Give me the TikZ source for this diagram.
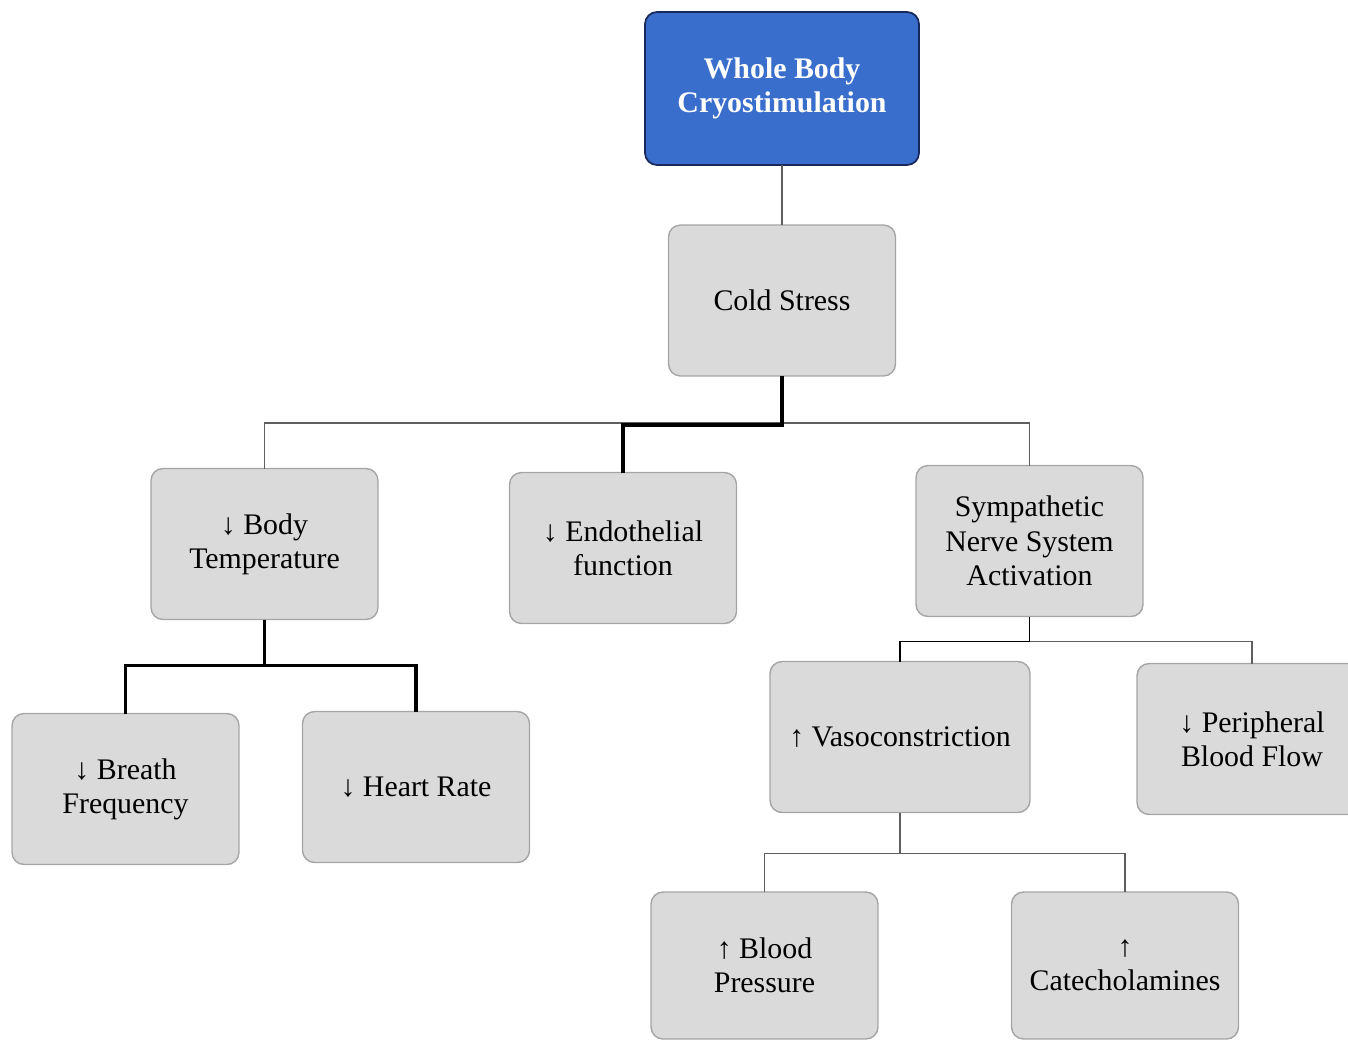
\documentclass[tikz,border=0pt]{standalone}
\usepackage{fontspec}
\setmainfont{Liberation Serif}
\definecolor{boxfill}{RGB}{218,218,218}
\definecolor{boxline}{RGB}{165,165,165}
\definecolor{topfill}{RGB}{58,110,205}
\definecolor{topline}{RGB}{25,40,90}
\definecolor{linkgray}{RGB}{95,95,95}
\begin{document}
\begin{tikzpicture}[x=0.02cm,y=-0.02cm,
    box/.style={draw=boxline,fill=boxfill,rounded corners=0.24cm,line width=0.8pt,
                minimum width=4.54cm,minimum height=3.02cm,inner sep=2pt,outer sep=0pt,
                align=center,font=\fontsize{17}{19.5}\selectfont},
    topbox/.style={box,draw=topline,fill=topfill,text=white,line width=1pt,
                minimum width=5.48cm,minimum height=3.06cm,font=\fontsize{17}{19.5}\selectfont\bfseries},
    thinlink/.style={draw=linkgray,line width=1pt},
    boldlink/.style={draw=black,line width=2pt}]
    \useasboundingbox (0,0) rectangle (1348,1039);
    \node[topbox]                           (wbc)   at ( 782.0,  88.5) {Whole Body\\Cryostimulation};
    \node[box]                              (cold)  at ( 782.0, 300.5) {Cold Stress};
    \node[box]                              (bodyt) at ( 264.5, 544.0) {↓ Body\\Temperature};
    \node[box]                              (endo)  at ( 623.0, 548.0) {↓ Endothelial\\function};
    \node[box]                              (symp)  at (1029.5, 541.0) {Sympathetic\\Nerve System\\Activation};
    \node[box]                              (breath) at ( 125.5, 789.0) {↓ Breath\\Frequency};
    \node[box]                              (heart) at ( 416.0, 787.0) {↓ Heart Rate};
    \node[box,minimum width=5.2cm]          (vaso)  at ( 900.0, 737.0) {↑ Vasoconstriction};
    \node[box,minimum width=4.6cm]          (perif) at (1252.0, 739.0) {↓ Peripheral\\Blood Flow};
    \node[box,minimum height=2.94cm]        (bp)    at ( 764.5, 965.5) {↑ Blood\\Pressure};
    \node[box,minimum height=2.94cm]        (catec) at (1125.0, 965.5) {↑\\Catecholamines};
    \draw[thinlink] (wbc.south)   to (cold.north);
    \draw[thinlink] (cold.south)  -- ++(0,47) -| (bodyt.north);
    \draw[thinlink] (cold.south)  -- ++(0,47) -| (symp.north);
    \draw[boldlink] (cold.south)  -- ++(0,49) -| (endo.north);
    \draw[boldlink] (bodyt.south) -- ++(0,46) -| (breath.north);
    \draw[boldlink] (bodyt.south) -- ++(0,46) -| (heart.north);
    \draw[thinlink] (symp.south)  -- ++(0,25) -| (perif.north);
    \draw[boldlink,line width=0.9pt] (symp.south) -- ++(0,25) -| (vaso.north);
    \draw[thinlink] (vaso.south)  -- ++(0,41) -| (bp.north);
    \draw[thinlink] (vaso.south)  -- ++(0,41) -| (catec.north);
\end{tikzpicture}
\end{document}
